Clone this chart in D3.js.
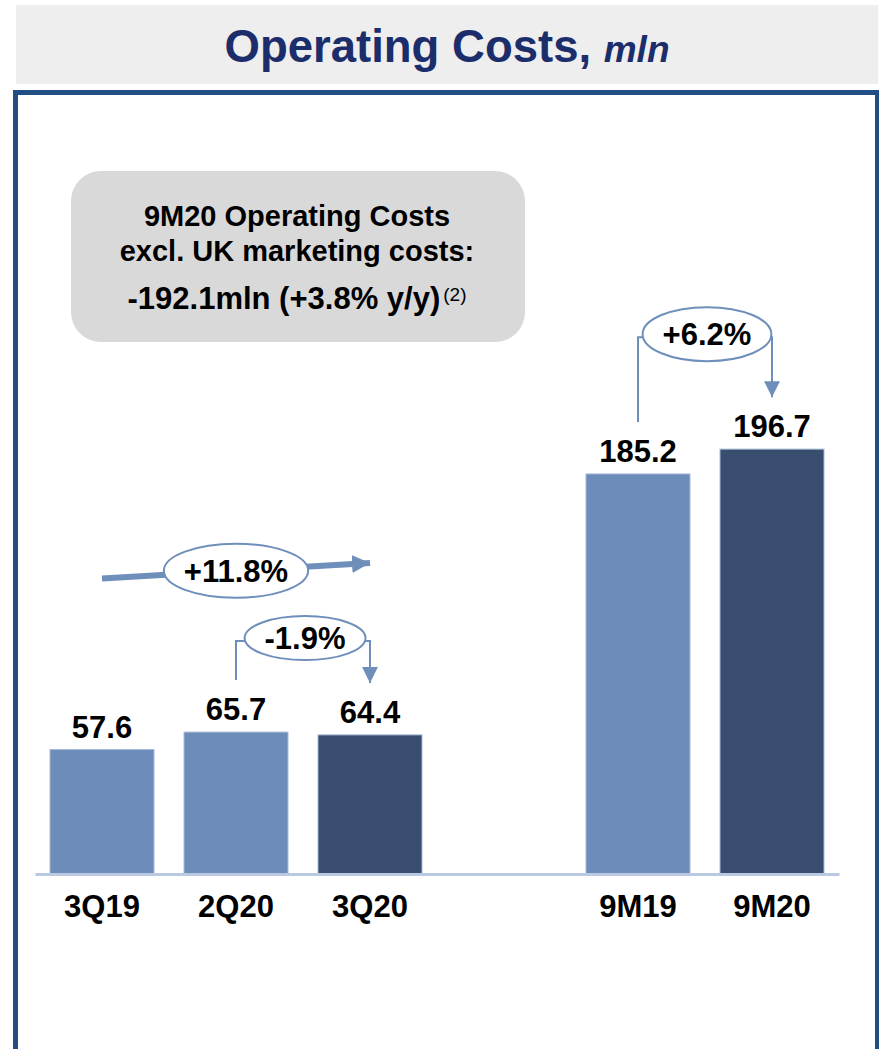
<!DOCTYPE html>
<html>
<head>
<meta charset="utf-8">
<script src="https://cdn.jsdelivr.net/npm/d3@7"></script>
<style>
  body { margin: 0; background: #fff; }
  svg text { font-family: "Liberation Sans", Arial, sans-serif; font-weight: bold; }
</style>
</head>
<body>
<div id="chart"></div>
<script>
// data
var slots = ["3Q19", "2Q20", "3Q20", "_gap", "9M19", "9M20"]; // one empty slot between quarters and 9M
var periods = ["3Q19", "2Q20", "3Q20", "9M19", "9M20"];
var costs = [57.6, 65.7, 64.4, 185.2, 196.7];
var current = [false, false, true, false, true];
var changeFrom = ["2Q20", "9M19", "3Q19"];
var changeTo = ["3Q20", "9M20", "3Q20"];
var changeLabels = ["-1.9%", "+6.2%", "+11.8%"];
var boxLines = ["9M20 Operating Costs", "excl. UK marketing costs:", "-192.1mln (+3.8% y/y)"];
var boxNote = "(2)";

var W = 879, H = 1049;
var lightBlue = "#6d8cb9", darkBlue = "#394d6e", arrowBlue = "#6f8fbb";
var labelSize = 31;

var svg = d3.select("#chart").append("svg")
  .attr("width", W).attr("height", H);

var defs = svg.append("defs");
defs.append("marker")
  .attr("id", "head")
  .attr("markerUnits", "userSpaceOnUse")
  .attr("viewBox", "0 0 16 16")
  .attr("refX", 16).attr("refY", 8)
  .attr("markerWidth", 16).attr("markerHeight", 16)
  .attr("orient", "auto")
  .append("path").attr("d", "M0,0L16,8L0,16Z").attr("fill", arrowBlue);
defs.append("marker")
  .attr("id", "bighead")
  .attr("markerUnits", "userSpaceOnUse")
  .attr("viewBox", "0 0 18 18")
  .attr("refX", 18).attr("refY", 9)
  .attr("markerWidth", 18).attr("markerHeight", 18)
  .attr("orient", "auto")
  .append("path").attr("d", "M0,0L18,9L0,18Z").attr("fill", arrowBlue);

// title band
svg.append("rect")
  .attr("x", 16).attr("y", 5).attr("width", 862).attr("height", 79)
  .attr("fill", "#eeeeee");
var title = svg.append("text")
  .attr("x", 447).attr("y", 62)
  .attr("text-anchor", "middle")
  .attr("fill", "#1c2d6b");
title.append("tspan").attr("font-size", 45.5).text("Operating Costs, ");
title.append("tspan").attr("font-size", 37).attr("font-style", "italic").text("mln");

// frame
svg.append("rect")
  .attr("x", 15.5).attr("y", 92.5).attr("width", 862).attr("height", 1000)
  .attr("fill", "#fff").attr("stroke", "#214e85").attr("stroke-width", 5);

// callout box
svg.append("rect")
  .attr("x", 71).attr("y", 171).attr("width", 454).attr("height", 171)
  .attr("rx", 30).attr("fill", "#d9d9d9");
var boxSizes = [29, 29, 31];
var boxBase = [226, 261, 309];
svg.selectAll(".boxline")
  .data(boxLines.slice(0, 2))
  .enter().append("text")
  .attr("class", "boxline")
  .attr("x", 297)
  .attr("y", function(d, i) { return boxBase[i]; })
  .attr("font-size", function(d, i) { return boxSizes[i]; })
  .attr("text-anchor", "middle")
  .attr("fill", "#000")
  .text(function(d) { return d; });
// last line with the footnote mark, centred as a whole
var lastLine = svg.append("text")
  .attr("class", "boxline")
  .attr("x", 297).attr("y", boxBase[2])
  .attr("text-anchor", "middle")
  .attr("fill", "#000");
lastLine.append("tspan").attr("font-size", boxSizes[2]).text(boxLines[2]);
lastLine.append("tspan")
  .attr("font-size", 19).attr("font-weight", "normal")
  .attr("dx", 3).attr("dy", -8)
  .text(boxNote);

// scales
var x = d3.scaleBand()
  .domain(slots)
  .range([35, 839])
  .paddingInner(0.224)
  .paddingOuter(0.112);
var y = d3.scaleLinear()
  .domain([0, 200])
  .range([874, 442]);

function cx(p) { return x(p) + x.bandwidth() / 2; }
function valueOf(p) { return costs[periods.indexOf(p)]; }

// bars
svg.selectAll(".bar")
  .data(periods)
  .enter().append("rect")
  .attr("class", "bar")
  .attr("x", function(d) { return x(d); })
  .attr("y", function(d, i) { return y(costs[i]); })
  .attr("width", x.bandwidth())
  .attr("height", function(d, i) { return y(0) - y(costs[i]); })
  .attr("fill", function(d, i) { return current[i] ? darkBlue : lightBlue; })
  .attr("stroke", "#a3b8d8").attr("stroke-width", 1);

// value labels
svg.selectAll(".val")
  .data(periods)
  .enter().append("text")
  .attr("class", "val")
  .attr("x", function(d) { return cx(d); })
  .attr("y", function(d, i) { return y(costs[i]) - 12; })
  .attr("text-anchor", "middle")
  .attr("font-size", labelSize)
  .attr("fill", "#000")
  .text(function(d, i) { return costs[i].toFixed(1); });

// x axis (domain line is the baseline)
var xAxis = d3.axisBottom(x)
  .tickValues(periods)
  .tickSizeInner(0).tickSizeOuter(0)
  .tickPadding(21);
var gx = svg.append("g")
  .attr("transform", "translate(0," + y(0) + ")")
  .call(xAxis);
gx.select(".domain").attr("stroke", "#b9c9e2").attr("stroke-width", 3);
gx.selectAll("text")
  .attr("font-size", labelSize)
  .attr("fill", "#000")
  .style("font-family", "'Liberation Sans', Arial, sans-serif")
  .style("font-weight", "bold");

// change bubbles
var ryOf = { "-1.9%": 22, "+6.2%": 27, "+11.8%": 27 };
var liftOf = { "-1.9%": 39, "+6.2%": 60 };

function bubble(cxp, cyp, label) {
  var t = svg.append("text")
    .attr("x", cxp).attr("y", cyp + 11)
    .attr("text-anchor", "middle")
    .attr("font-size", labelSize)
    .attr("fill", "#000")
    .text(label);
  var w = t.node().getComputedTextLength();
  svg.insert("ellipse", function() { return t.node(); })
    .attr("cx", cxp).attr("cy", cyp)
    .attr("rx", w / 2 + 20).attr("ry", ryOf[label])
    .attr("fill", "#fff").attr("stroke", arrowBlue).attr("stroke-width", 2);
}

// elbow brackets for -1.9% and +6.2%
for (var k = 0; k < 2; k++) {
  var x0 = cx(changeFrom[k]), x1 = cx(changeTo[k]);
  var startY = y(valueOf(changeFrom[k])) - 52;
  var tipY = y(valueOf(changeTo[k])) - 52;
  var level = Math.min(startY, tipY) - liftOf[changeLabels[k]];
  var mid = (x0 + x1) / 2;
  svg.append("path")
    .attr("d", "M" + x0 + "," + startY + "V" + level + "H" + x1 + "V" + tipY)
    .attr("fill", "none").attr("stroke", arrowBlue).attr("stroke-width", 2)
    .attr("marker-end", "url(#head)");
  bubble(mid + 2, level - 3, changeLabels[k]);
}

// long trend arrow for +11.8%
var ax0 = cx(changeFrom[2]), ax1 = cx(changeTo[2]);
var ay0 = y(valueOf(changeFrom[2])) - 171, ay1 = y(valueOf(changeTo[2])) - 172;
svg.append("line")
  .attr("x1", ax0).attr("y1", ay0).attr("x2", ax1).attr("y2", ay1)
  .attr("stroke", arrowBlue).attr("stroke-width", 6)
  .attr("marker-end", "url(#bighead)");
bubble((ax0 + ax1) / 2, (ay0 + ay1) / 2, changeLabels[2]);
</script>
</body>
</html>
